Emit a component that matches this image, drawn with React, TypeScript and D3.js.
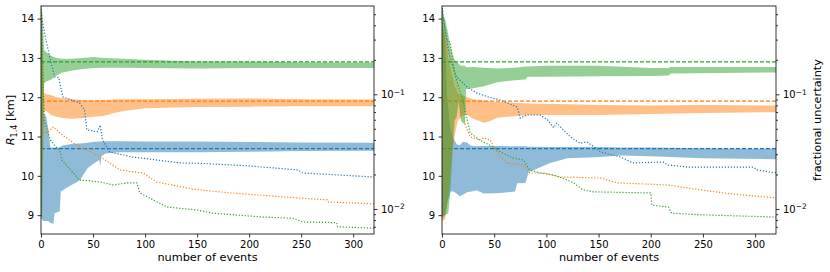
import { useEffect, useRef } from "react";
import * as d3 from "d3";

const W = 830;
const H = 272;
const TOP = 6;
const BOTTOM = 234;

const X_TICKS = [0, 50, 100, 150, 200, 250, 300];
const R_TICKS = [9, 10, 11, 12, 13, 14];
const FRAC_TICKS = [0.01, 0.1];
const FRAC_MINOR = [0.007, 0.008, 0.009, 0.02, 0.03, 0.04, 0.05, 0.06, 0.07, 0.08, 0.09, 0.2, 0.3, 0.4, 0.5];

const COLORS = { blue: "#1f77b4", orange: "#ff7f0e", green: "#2ca02c" };
const TRUE_R = { blue: 10.69, orange: 11.9, green: 12.9 };

// [events, lower, upper]
const leftBlueBand = [
  [0, 8.9, 14.3], [1, 8.9, 13.5], [2, 8.85, 11.6], [5, 8.85, 11.5], [7, 8.85, 11.2], [9, 8.8, 10.72],
  [12, 8.78, 10.72], [13, 9.05, 10.72], [18, 9.1, 10.72], [19, 9.6, 10.75], [22, 9.65, 10.78],
  [28, 9.75, 10.8], [35, 9.85, 10.82], [38, 9.9, 10.82], [40, 10.0, 10.83], [45, 10.2, 10.84],
  [50, 10.3, 10.86], [56, 10.4, 10.87], [57, 10.25, 10.87], [58, 10.5, 10.87], [62, 10.57, 10.88],
  [75, 10.6, 10.88], [100, 10.6, 10.87], [150, 10.6, 10.87], [200, 10.61, 10.86], [250, 10.63, 10.85],
  [320, 10.64, 10.84],
];
const leftOrangeBand = [
  [0, 8.9, 14.3], [1, 9.5, 13.8], [2, 11.0, 13.2], [3, 11.65, 12.1], [5, 11.65, 12.08], [10, 11.55, 12.05],
  [15, 11.5, 12.0], [20, 11.47, 11.98], [30, 11.45, 11.95], [40, 11.47, 11.93], [50, 11.5, 11.92],
  [60, 11.52, 11.93], [70, 11.6, 11.94], [80, 11.65, 11.95], [100, 11.72, 11.95], [150, 11.75, 11.96],
  [200, 11.76, 11.97], [250, 11.77, 11.95], [320, 11.77, 11.94],
];
const leftGreenBand = [
  [0, 8.9, 14.3], [1, 9.0, 14.2], [2, 10.5, 13.8], [3, 12.35, 13.2], [5, 12.4, 13.15], [10, 12.45, 13.05],
  [15, 12.55, 13.0], [20, 12.62, 12.98], [30, 12.68, 12.98], [40, 12.72, 13.0], [50, 12.74, 13.02],
  [60, 12.75, 13.0], [80, 12.75, 12.98], [100, 12.74, 12.95], [150, 12.73, 12.91], [200, 12.74, 12.9],
  [250, 12.74, 12.89], [320, 12.74, 12.88],
];

const rightBlueBand = [
  [0, 8.9, 14.0], [3, 9.0, 13.5], [5, 9.3, 12.0], [8, 9.6, 11.2], [11, 9.6, 10.95], [14, 9.55, 10.8],
  [17, 9.48, 10.78], [20, 9.52, 10.86], [24, 9.58, 10.85], [28, 9.6, 10.76], [33, 9.63, 10.75],
  [40, 9.55, 10.76], [56, 9.56, 10.76], [70, 9.6, 10.75], [72, 9.81, 10.75], [80, 9.82, 10.75],
  [83, 10.1, 10.74], [88, 10.15, 10.74], [103, 10.32, 10.73], [120, 10.45, 10.73], [152, 10.48, 10.73],
  [171, 10.52, 10.72], [200, 10.5, 10.72], [250, 10.45, 10.7], [320, 10.42, 10.69],
];
const rightOrangeBand = [
  [0, 8.85, 13.75], [3, 8.9, 13.6], [6, 9.5, 13.0], [9, 10.3, 12.7], [12, 11.0, 12.3], [15, 11.4, 12.1],
  [20, 11.55, 12.05], [24, 11.55, 12.0], [30, 11.45, 11.95], [40, 11.35, 11.92], [45, 11.38, 11.9],
  [53, 11.48, 11.88], [62, 11.5, 11.87], [84, 11.55, 11.84], [120, 11.55, 11.82], [150, 11.55, 11.8],
  [200, 11.57, 11.79], [250, 11.6, 11.8], [320, 11.62, 11.79],
];
const rightGreenBand = [
  [0, 9.0, 14.05], [3, 9.0, 14.0], [6, 9.05, 13.6], [8, 9.6, 13.3], [10, 10.6, 13.1], [12, 11.4, 12.95],
  [14, 11.5, 12.9], [16, 11.9, 12.85], [18, 11.4, 12.8], [22, 11.3, 12.8], [23, 12.2, 12.76],
  [30, 12.23, 12.77], [40, 12.28, 12.75], [53, 12.38, 12.73], [70, 12.43, 12.75], [80, 12.45, 12.78],
  [82, 12.52, 12.78], [100, 12.52, 12.8], [150, 12.53, 12.8], [200, 12.54, 12.74], [217, 12.55, 12.74],
  [219, 12.6, 12.77], [320, 12.63, 12.77],
];

// [events, fractional uncertainty]
const leftBlueFrac = [
  [0, 0.59], [1, 0.45], [5, 0.29], [9, 0.2], [13, 0.142], [17, 0.14], [21, 0.095], [37, 0.084],
  [42, 0.073], [44, 0.049], [54, 0.047], [57, 0.054], [59, 0.04], [66, 0.0314], [88, 0.0284],
  [134, 0.0252], [153, 0.025], [198, 0.0238], [247, 0.0219], [252, 0.0206], [320, 0.019],
];
const leftOrangeFrac = [
  [0, 0.59], [2, 0.1], [4, 0.045], [8, 0.048], [12, 0.052], [18, 0.046], [31, 0.0376], [57, 0.0284],
  [66, 0.0252], [76, 0.0219], [98, 0.0206], [111, 0.0172], [146, 0.0149], [182, 0.0138],
  [246, 0.0125], [275, 0.012], [276, 0.0115], [320, 0.0111],
];
const leftGreenFrac = [
  [0, 0.59], [3, 0.06], [5, 0.052], [9, 0.04], [14, 0.035], [18, 0.0327], [20, 0.0267], [37, 0.0179],
  [57, 0.0172], [69, 0.0162], [83, 0.0169], [92, 0.0169], [95, 0.0138], [108, 0.012], [121, 0.0104],
  [150, 0.0098], [165, 0.0092], [213, 0.0085], [242, 0.0083], [252, 0.0077], [284, 0.0076],
  [285, 0.007], [320, 0.0068],
];
const rightBlueFrac = [
  [0, 0.6], [3, 0.35], [8, 0.2], [14, 0.1415], [24, 0.116], [33, 0.103], [44, 0.095], [56, 0.089],
  [72, 0.0775], [75, 0.062], [81, 0.066], [94, 0.066], [101, 0.06], [107, 0.051], [110, 0.056],
  [123, 0.0425], [132, 0.0376], [139, 0.0384], [152, 0.0314], [171, 0.0284], [183, 0.0252],
  [212, 0.0257], [216, 0.0242], [235, 0.0232], [298, 0.0232], [302, 0.0219], [320, 0.0206],
];
const rightOrangeFrac = [
  [0, 0.55], [2, 0.386], [5, 0.243], [11, 0.173], [16, 0.089], [23, 0.052], [27, 0.0425], [36, 0.04],
  [40, 0.0417], [46, 0.04], [53, 0.0308], [62, 0.0252], [78, 0.0242], [84, 0.0206], [97, 0.0206],
  [113, 0.019], [152, 0.0186], [168, 0.0169], [216, 0.0162], [247, 0.0147], [270, 0.0138],
  [289, 0.0132], [320, 0.0125],
];
const rightGreenFrac = [
  [0, 0.55], [1, 0.47], [5, 0.3], [8, 0.28], [12, 0.1535], [16, 0.116], [20, 0.089], [27, 0.046],
  [36, 0.04], [49, 0.0347], [56, 0.0314], [68, 0.0279], [78, 0.0267], [84, 0.0219], [94, 0.0206],
  [107, 0.0198], [120, 0.0179], [126, 0.0169], [135, 0.0147], [145, 0.0141], [200, 0.0138],
  [201, 0.0108], [217, 0.0104], [220, 0.0092], [247, 0.0089], [320, 0.0085],
];

const FONT = "DejaVu Sans";
const TICK_SIZE = 10;
const LABEL_SIZE = 11.3;

const Panel = ({ id, x0, x1, bands, fracs, rightLabel }) => {
  const xAxisRef = useRef(null);
  const yAxisRef = useRef(null);
  const fAxisRef = useRef(null);

  const xScale = d3.scaleLinear().domain([0, 320]).range([x0, x1]);
  const yScale = d3.scaleLinear().domain([8.52, 14.32]).range([BOTTOM, TOP]);
  const fScale = d3.scaleLog().domain([0.00605, 0.589]).range([BOTTOM, TOP]);

  useEffect(() => {
    const style = (g) => {
      g.select(".domain").remove();
      g.attr("font-family", FONT).attr("font-size", TICK_SIZE);
      g.selectAll("line").attr("stroke", "#000").attr("stroke-width", 0.8);
      g.selectAll("text").attr("fill", "#000");
    };

    const gx = d3.select(xAxisRef.current);
    gx.selectAll("*").remove();
    gx.call(
      d3.axisBottom(xScale).tickValues(X_TICKS).tickFormat(d3.format("d")).tickSize(3.5).tickPadding(3.5).tickSizeOuter(0)
    ).call(style);

    const gy = d3.select(yAxisRef.current);
    gy.selectAll("*").remove();
    gy.call(
      d3.axisLeft(yScale).tickValues(R_TICKS).tickFormat(d3.format("d")).tickSize(3.5).tickPadding(3.5).tickSizeOuter(0)
    ).call(style);

    const gf = d3.select(fAxisRef.current);
    gf.selectAll("*").remove();
    gf.append("g")
      .call(d3.axisRight(fScale).tickValues(FRAC_MINOR).tickSize(2).tickFormat(() => "").tickSizeOuter(0))
      .call(style);
    gf.append("g")
      .call(d3.axisRight(fScale).tickValues(FRAC_TICKS).tickSize(3.5).tickPadding(3.5).tickSizeOuter(0))
      .call(style)
      .selectAll("text")
      .each(function (d) {
        const t = d3.select(this);
        t.text("10");
        t.append("tspan")
          .attr("dy", "-0.45em")
          .attr("font-size", 7.5)
          .text(d < 0.05 ? "\u22122" : "\u22121");
      });
  }, [x0, x1]);

  const area = d3
    .area()
    .x((d) => xScale(d[0]))
    .y0((d) => yScale(d[1]))
    .y1((d) => yScale(d[2]));
  const fracLine = d3
    .line()
    .x((d) => xScale(d[0]))
    .y((d) => fScale(d[1]));

  const keys = ["blue", "orange", "green"];

  return (
    <g>
      <defs>
        <clipPath id={`clip-${id}`}>
          <rect x={x0} y={TOP} width={x1 - x0} height={BOTTOM - TOP} />
        </clipPath>
      </defs>
      <g clipPath={`url(#clip-${id})`}>
        {keys.map((k) => (
          <g key={k}>
            <path d={area(bands[k])} fill={COLORS[k]} fillOpacity={0.5} stroke="none" />
            <line
              x1={x0}
              x2={x1}
              y1={yScale(TRUE_R[k])}
              y2={yScale(TRUE_R[k])}
              stroke={COLORS[k]}
              strokeWidth={1.2}
              strokeDasharray="4,2"
            />
          </g>
        ))}
        {keys.map((k) => (
          <path
            key={k}
            d={fracLine(fracs[k])}
            fill="none"
            stroke={COLORS[k]}
            strokeWidth={1.2}
            strokeDasharray="1.2,1.8"
          />
        ))}
      </g>
      <rect x={x0} y={TOP} width={x1 - x0} height={BOTTOM - TOP} fill="none" stroke="#000" strokeWidth={0.8} />
      <g ref={xAxisRef} transform={`translate(0,${BOTTOM})`} />
      <g ref={yAxisRef} transform={`translate(${x0},0)`} />
      <g ref={fAxisRef} transform={`translate(${x1},0)`} />
      <text x={(x0 + x1) / 2} y={261} textAnchor="middle" fontFamily={FONT} fontSize={LABEL_SIZE}>
        number of events
      </text>
      {rightLabel && (
        <text
          transform={`translate(821,${(TOP + BOTTOM) / 2}) rotate(-90)`}
          textAnchor="middle"
          fontFamily={FONT}
          fontSize={LABEL_SIZE}
        >
          fractional uncertainty
        </text>
      )}
    </g>
  );
};

export default function App() {
  return (
    <svg width={W} height={H} style={{ position: "absolute", left: 0, top: 0, background: "#fff" }}>
      <Panel
        id="left"
        x0={41}
        x1={374}
        bands={{ blue: leftBlueBand, orange: leftOrangeBand, green: leftGreenBand }}
        fracs={{ blue: leftBlueFrac, orange: leftOrangeFrac, green: leftGreenFrac }}
        rightLabel={false}
      />
      <Panel
        id="right"
        x0={442}
        x1={776}
        bands={{ blue: rightBlueBand, orange: rightOrangeBand, green: rightGreenBand }}
        fracs={{ blue: rightBlueFrac, orange: rightOrangeFrac, green: rightGreenFrac }}
        rightLabel={true}
      />
      <text
        transform={`translate(14,${(TOP + BOTTOM) / 2}) rotate(-90)`}
        textAnchor="middle"
        fontFamily={FONT}
        fontSize={LABEL_SIZE}
      >
        <tspan fontStyle="italic">R</tspan>
        <tspan fontSize={8} dy={2.5}>1.4</tspan>
        <tspan dy={-2.5}> [km]</tspan>
      </text>
    </svg>
  );
}
